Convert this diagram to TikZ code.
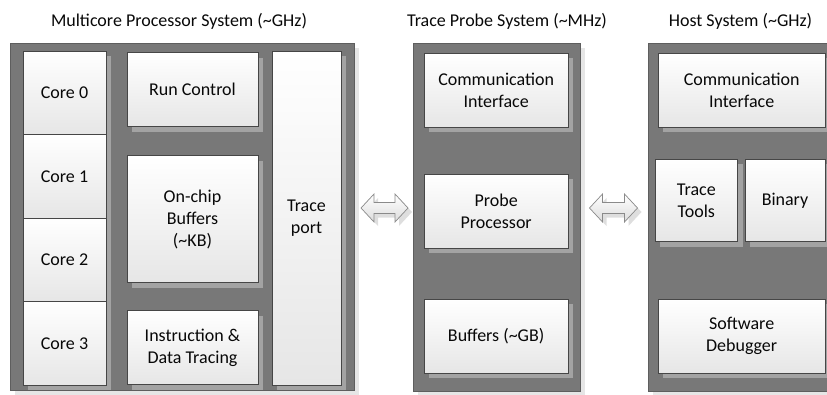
\documentclass[tikz,border=0pt]{standalone}
\usepackage{fontspec}
\setmainfont{Carlito}
\usetikzlibrary{shadows,calc}

\definecolor{panelfill}{HTML}{787878}
\definecolor{panelline}{HTML}{5E5E5E}
\definecolor{panelshadow}{HTML}{E6E6E6}
\definecolor{unitline}{HTML}{464646}
\definecolor{unitshadow}{HTML}{A3A3A3}
\definecolor{unitbottom}{HTML}{E6E6E6}
\definecolor{linkline}{HTML}{8A8A8A}
\definecolor{linkbottom}{HTML}{DCDCDC}
\definecolor{linkshadow}{HTML}{DEDEDE}
\definecolor{inktext}{HTML}{080808}

% two-headed block arrow between two tip points
\newcommand{\duplexlink}[2]{%
  \path[link]
    (#1) -- ($(#1)+(13,-14)$) -- ($(#1)+(13,-5.5)$) -- ($(#2)+(-13,-5.5)$)
    -- ($(#2)+(-13,-14)$) -- (#2) -- ($(#2)+(-13,14)$) -- ($(#2)+(-13,5.5)$)
    -- ($(#1)+(13,5.5)$) -- ($(#1)+(13,14)$) -- cycle;}

\begin{document}
\begin{tikzpicture}[x=1pt,y=-1pt,
  every node/.style={font=\fontsize{18}{22}\selectfont, text=inktext,
    inner sep=0pt, outer sep=0pt},
  panel/.style={draw=panelline, line width=0.8pt, fill=panelfill,
    anchor=north west,
    drop shadow={shadow xshift=5pt, shadow yshift=-5pt, fill=panelshadow, opacity=1}},
  unit/.style={draw=unitline, line width=0.7pt, top color=white,
    bottom color=unitbottom, anchor=north west, align=center,
    drop shadow={shadow xshift=5pt, shadow yshift=-5pt, fill=unitshadow, opacity=1}},
  title/.style={anchor=base},
  link/.style={draw=linkline, line width=0.7pt, top color=white,
    bottom color=linkbottom, line join=miter,
    drop shadow={shadow xshift=4pt, shadow yshift=-4pt, fill=linkshadow, opacity=1}}
]
\useasboundingbox (0,0) rectangle (827,394);
\clip (0,0) rectangle (827,394);

% titles
\node[title] (ttl1) at (179,26.5) {Multicore Processor System (\textasciitilde GHz)};
\node[title] (ttl2) at (507,26.5) {Trace Probe System (\textasciitilde MHz)};
\node[title] (ttl3) at (740.5,26.5) {Host System (\textasciitilde GHz)};

% multicore processor system
\node[panel, minimum width=344, minimum height=347.5] (mc) at (10,43) {};
\node[unit, minimum width=83, minimum height=83.5] (core0) at (23,51) {Core 0};
\node[unit, minimum width=83, minimum height=83.5] (core1) at (23,134.5) {Core 1};
\node[unit, minimum width=83, minimum height=83.5] (core2) at (23,218) {Core 2};
\node[unit, minimum width=83, minimum height=83.5] (core3) at (23,301.5) {Core 3};
\node[unit, minimum width=131, minimum height=74] (run) at (127,52.5) {Run Control};
\node[unit, minimum width=131, minimum height=127] (chipbuf) at (127,155.5) {On-chip\\Buffers\\(\textasciitilde KB)};
\node[unit, minimum width=131, minimum height=74] (itrace) at (127,310.5) {Instruction \&\\Data Tracing};
\node[unit, minimum width=69, minimum height=334] (port) at (272,51) {Trace\\port};

% trace probe system
\node[panel, minimum width=167, minimum height=348] (tp) at (413,43) {};
\node[unit, minimum width=144.3, minimum height=74] (tpci) at (424,53.3) {Communication\\Interface};
\node[unit, minimum width=144.3, minimum height=74.3] (pproc) at (424,174) {Probe\\Processor};
\node[unit, minimum width=144.3, minimum height=74] (tpbuf) at (424,299) {Buffers (\textasciitilde GB)};

% host system
\node[panel, minimum width=200, minimum height=348] (host) at (648,43) {};
\node[unit, minimum width=166.7, minimum height=74] (hci) at (658.3,53.3) {Communication\\Interface};
\node[unit, minimum width=82.7, minimum height=82.7] (ttools) at (655,159) {Trace\\Tools};
\node[unit, minimum width=80, minimum height=82.7] (binary) at (745,159) {Binary};
\node[unit, minimum width=166.7, minimum height=74] (dbg) at (658.3,299) {Software\\Debugger};

% links between the systems
\coordinate (lnkAl) at ($(mc.east |- 0,208)+(7,0)$);
\coordinate (lnkAr) at ($(tp.west |- 0,208)+(-5,0)$);
\coordinate (lnkBl) at ($(tp.east |- 0,208)+(9.5,0)$);
\coordinate (lnkBr) at ($(host.west |- 0,208)+(-10.5,0)$);
\duplexlink{lnkAl}{lnkAr}
\duplexlink{lnkBl}{lnkBr}
\end{tikzpicture}
\end{document}
